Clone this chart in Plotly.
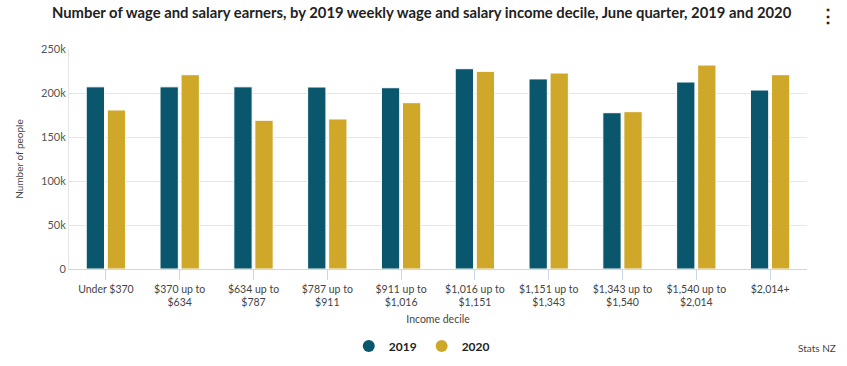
import plotly.graph_objects as go

categories = ["Under $370", "$370 up to<br>$634", "$634 up to<br>$787", "$787 up to<br>$911",
              "$911 up to<br>$1,016", "$1,016 up to<br>$1,151", "$1,151 up to<br>$1,343",
              "$1,343 up to<br>$1,540", "$1,540 up to<br>$2,014", "$2,014+"]
values_2019 = [207000, 207000, 207000, 206800, 206000, 227600, 216000, 177600, 212500, 203400]
values_2020 = [180700, 220800, 169000, 170500, 189000, 224600, 222700, 178800, 231800, 220800]
y_ticks = [0, 50000, 100000, 150000, 200000, 250000]
y_tick_labels = ["0", "50k", "100k", "150k", "200k", "250k"]

C2019 = "#0a566d"
C2020 = "#cfa829"
FONT = "Lato"

fig = go.Figure()
fig.add_trace(go.Bar(x=categories, y=values_2019, name="2019", marker_color=C2019,
                     marker_line=dict(color="#ffffff", width=1), showlegend=False))
fig.add_trace(go.Bar(x=categories, y=values_2020, name="2020", marker_color=C2020,
                     marker_line=dict(color="#ffffff", width=1), showlegend=False))
for nm, c in [("2019", C2019), ("2020", C2020)]:
    fig.add_trace(go.Scatter(x=[None], y=[None], mode="markers", name="<b>" + nm + "</b>",
                             marker=dict(color=c, size=12, symbol="circle")))

fig.update_layout(
    width=847, height=366,
    margin=dict(l=69, r=40, t=49, b=97, autoexpand=False),
    paper_bgcolor="white", plot_bgcolor="white",
    font=dict(family=FONT, color="#333333"),
    barmode="group", bargap=0.43, bargroupgap=0.13,
    title=dict(text="<b>Number of wage and salary earners, by 2019 weekly wage and salary income decile, June quarter, 2019 and 2020</b>",
               x=0.0614, xanchor="left", y=0.966, yanchor="middle", pad=dict(l=0, r=0, t=0, b=0),
               font=dict(size=14.8, color="#222222", family=FONT)),
    legend=dict(orientation="h", x=0.478, xanchor="center", y=-0.35, yanchor="middle",
                font=dict(size=12, color="#222222", family=FONT), itemwidth=30,
                traceorder="normal"),
    xaxis=dict(showline=True, linecolor="#ccd6eb", linewidth=1, ticks="outside", ticklen=10,
               tickcolor="#ccd6eb", tickfont=dict(size=10.5, color="#444444"), automargin=False,
               title=dict(text="Income decile", font=dict(size=10.5, color="#444444"), standoff=8)),
    yaxis=dict(range=[0, 250000], tickvals=y_ticks, ticktext=y_tick_labels, automargin=False,
               showgrid=True, gridcolor="#e6e6e6", showline=True, linecolor="#e6e6e6",
               zeroline=False, tickfont=dict(size=11, color="#555555"),
               title=dict(text="Number of people", font=dict(size=10, color="#444444"), standoff=15)),
)

fig.add_annotation(text="Stats NZ", xref="paper", yref="paper", x=1.0, xshift=31, y=-0.36,
                   xanchor="right", yanchor="middle", showarrow=False,
                   font=dict(size=10, color="#444444", family=FONT))
fig.add_annotation(text="<b>⋮</b>", xref="paper", yref="paper", x=1.0, xshift=21, y=1.155,
                   xanchor="center", yanchor="middle", showarrow=False,
                   font=dict(size=18, color="#222222", family=FONT))

fig.write_html("out.html", config={"displayModeBar": False},
               post_script="document.body.style.margin='0';")
